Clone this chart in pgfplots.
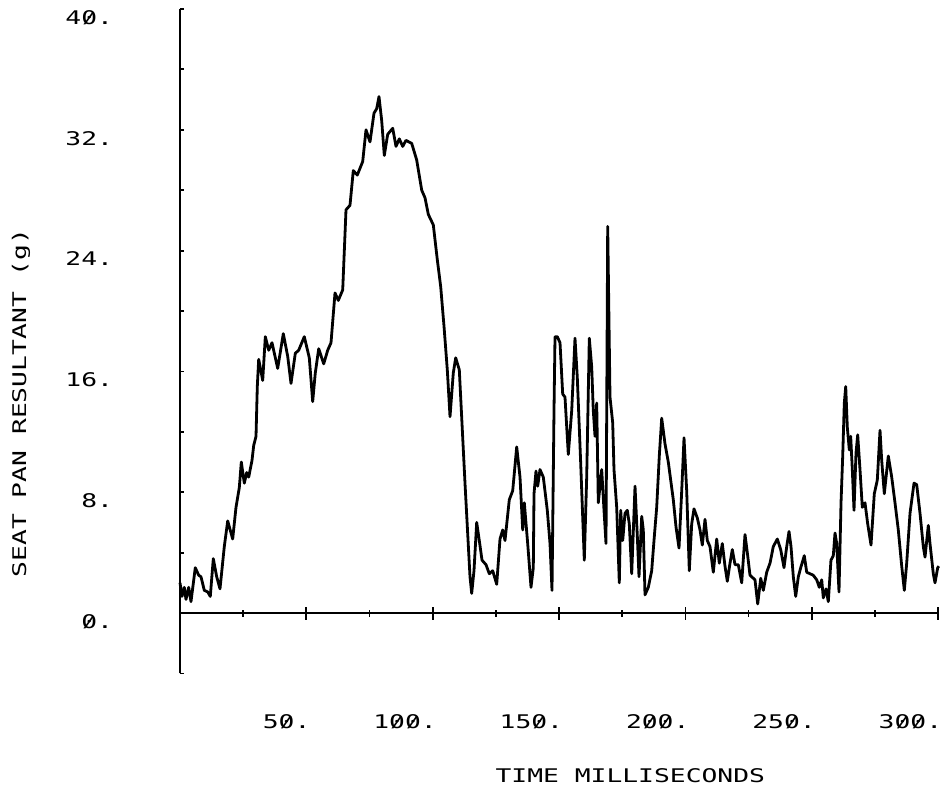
\documentclass[border=0pt]{standalone}
\usepackage{fontspec}
\setmainfont{DejaVu Sans Mono}[FakeStretch=1.4]
\usepackage{graphicx}
\usepackage{pgfplots}
\pgfplotsset{compat=1.18}
% plotter style slashed zero
\newcommand{\Z}{\ooalign{0\cr\hidewidth\raisebox{0.04em}{\scalebox{0.85}[0.78]{/}}\hidewidth\cr}}

\begin{document}
\begin{tikzpicture}
\path[use as bounding box] (-90pt,-88pt) rectangle (383pt,306.5pt);
\begin{axis}[
    anchor=origin,
    x=1.2635pt, y=7.55pt,
    xmin=0, xmax=300, ymin=-4, ymax=40,
    axis lines=middle,
    axis line style={-},
    every inner x axis line/.append style={-, line width=0.7pt},
    every inner y axis line/.append style={-, line width=1.4pt},
    clip=false,
    font=\fontsize{9.4}{11}\selectfont,
    xtick={50,100,...,300},
    minor xtick={25,75,...,275},
    xticklabels={5\Z.,1\Z\Z.,15\Z.,2\Z\Z.,25\Z.,3\Z\Z.},
    ytick={0,8,...,40},
    minor ytick={-4,4,12,20,28,36},
    yticklabels={\Z.,8.,16.,24.,32.,4\Z.},
    hide obscured x ticks=false,
    hide obscured y ticks=false,
    xtick align=center,
    ytick align=inside,
    major tick length=2.2pt,
    minor tick length=2.2pt,
    tick style={black, line width=0.9pt},
    xtick style={/pgfplots/major tick length=6.5pt, /pgfplots/minor tick length=3.5pt},
    xticklabel style={anchor=base east, inner sep=0pt, xshift=2.2pt, yshift=-56.5pt},
    yticklabel style={anchor=north east, inner sep=0pt, xshift=-33.3pt, yshift=-0.5pt},
    xlabel={TIME MILLISECONDS},
    ylabel={SEAT PAN RESULTANT (g)},
    every axis x label/.style={at={(axis description cs:0.594,-0.1545)}, anchor=center},
    every axis y label/.style={at={(axis description cs:-0.2098,0.407)}, anchor=center, rotate=90},
]
\addplot[black, line width=1.4pt, line join=round, mark=none] coordinates {
(0.00,2.0) (0.79,1.1) (1.70,1.7) (2.37,0.9) (3.44,1.7) (4.35,0.75) (6.05,3.0)
(7.40,2.5) (8.31,2.4) (9.62,1.5) (10.96,1.4) (11.99,1.1) (13.18,3.6) (14.52,2.4)
(15.83,1.6) (17.53,4.4) (18.88,6.1) (20.85,4.9) (22.16,7.0) (23.47,8.3) (24.26,10.0)
(25.45,8.6) (26.39,9.3) (27.19,9.0) (28.49,10.1) (29.17,11.1) (30.08,11.7) (30.59,15.0)
(31.14,16.8) (31.94,16.1) (32.73,15.4) (33.76,18.3) (35.10,17.4) (36.41,17.9) (38.66,16.2)
(40.88,18.5) (42.62,17.0) (43.93,15.2) (45.63,17.2) (46.97,17.4) (49.19,18.3) (51.17,16.9)
(52.51,14.0) (53.54,15.9) (54.89,17.5) (56.87,16.5) (58.45,17.4) (59.76,17.9) (61.34,21.2)
(62.64,20.7) (64.39,21.4) (65.69,26.7) (67.27,27.0) (68.58,29.3) (70.16,29.0) (72.30,29.9)
(73.61,32.0) (75.19,31.2) (76.77,33.1) (77.84,33.4) (78.75,34.2) (79.82,32.6) (80.85,30.3)
(82.19,31.7) (84.17,32.1) (85.48,30.9) (86.78,31.4) (88.13,30.9) (89.43,31.3) (91.69,31.1)
(93.67,30.0) (95.65,28.0) (96.95,27.5) (98.26,26.4) (100.24,25.7) (101.82,23.4) (103.17,21.6)
(104.47,19.0) (105.78,16.1) (106.85,13.0) (108.15,15.9) (109.10,16.9) (110.53,16.1)
(112.78,8.6) (114.76,2.4) (115.43,1.3) (116.34,2.8) (117.41,6.0) (118.44,4.8) (119.51,3.5)
(121.09,3.2) (122.40,2.6) (123.74,2.8) (125.33,1.9) (126.63,4.9) (127.70,5.5) (128.61,4.8)
(130.31,7.5) (131.66,8.1) (133.24,11.0) (134.55,9.0) (135.62,5.5) (136.25,7.3) (137.59,4.6)
(138.90,1.7) (139.81,3.0) (140.09,7.9) (140.88,9.4) (141.55,8.4) (142.46,9.5) (143.77,9.0)
(145.35,6.8) (146.42,4.6) (147.21,1.5) (148.00,13.4) (148.40,18.3) (149.31,18.3) (150.38,17.9)
(151.44,14.5) (152.35,14.3) (153.66,10.5) (155.01,13.4) (156.31,18.2) (157.22,15.6) (158.57,9.9)
(159.99,3.5) (160.94,9.0) (161.97,18.2) (162.92,16.3) (163.55,13.4) (164.23,11.7) (164.90,13.9)
(165.53,7.3) (166.88,9.5) (167.79,6.8) (168.58,4.6) (169.25,25.6) (170.16,14.3) (171.23,12.6)
(171.74,9.5) (172.81,7.0) (173.84,2.0) (174.40,6.8) (175.19,4.8) (176.10,6.6) (177.01,6.8)
(177.80,5.9) (178.75,2.6) (180.06,8.4) (180.97,5.1) (181.64,2.4) (182.71,6.4) (183.34,5.5)
(184.01,1.2) (185.32,1.7) (186.66,2.8) (187.57,4.8) (188.64,7.0) (189.67,10.4) (190.62,12.9)
(191.93,11.2) (193.23,10.0) (194.18,8.8) (195.21,7.5) (196.28,5.7) (197.47,4.3) (198.54,8.1)
(199.45,11.6) (200.51,8.1) (201.54,2.8) (202.49,5.9) (203.40,6.9) (204.71,6.3) (205.78,5.5)
(206.69,4.5) (207.76,6.2) (208.67,4.8) (209.73,4.4) (211.04,2.7) (212.39,4.9) (213.41,3.3)
(214.60,4.6) (215.67,3.1) (216.58,2.1) (217.65,3.3) (218.56,4.2) (219.63,3.2) (220.93,3.2)
(222.28,2.0) (223.58,5.2) (224.50,4.0) (225.56,2.5) (227.54,2.2) (228.61,0.6) (229.80,2.3)
(230.83,1.5) (232.17,2.7) (233.48,3.3) (234.78,4.4) (236.37,4.9) (237.71,4.2) (239.02,3.0)
(240.09,4.4) (241.00,5.4) (241.79,4.4) (242.70,2.4) (243.65,1.1) (244.68,2.4) (245.63,3.0)
(247.05,3.8) (248.00,2.7) (249.31,2.6) (250.61,2.5) (251.96,2.2) (252.99,1.7) (253.94,2.2)
(254.57,1.0) (255.64,1.6) (256.55,0.75) (257.60,3.5) (258.53,3.8) (259.20,5.3) (259.87,4.6)
(260.78,1.4) (261.58,7.3) (262.25,10.4) (262.88,13.9) (263.44,15.0) (264.07,12.3) (264.86,10.8)
(265.41,11.7) (266.05,9.5) (266.72,6.8) (267.51,10.6) (268.18,11.8) (269.09,9.5) (270.00,7.0)
(271.07,7.3) (272.14,5.9) (273.45,4.5) (274.75,7.9) (275.94,8.8) (277.01,12.1) (277.68,10.1)
(278.71,7.9) (280.29,10.4) (281.64,9.0) (282.94,7.3) (284.25,5.5) (285.60,3.1) (286.63,1.5)
(287.57,3.3) (288.88,6.6) (290.46,8.6) (291.53,8.5) (292.84,6.6) (294.14,4.4) (294.82,3.7)
(296.12,5.8) (296.79,4.6) (298.10,2.6) (298.77,2.0) (299.84,3.0) (300.30,3.1)
};
\end{axis}
\end{tikzpicture}
\end{document}
